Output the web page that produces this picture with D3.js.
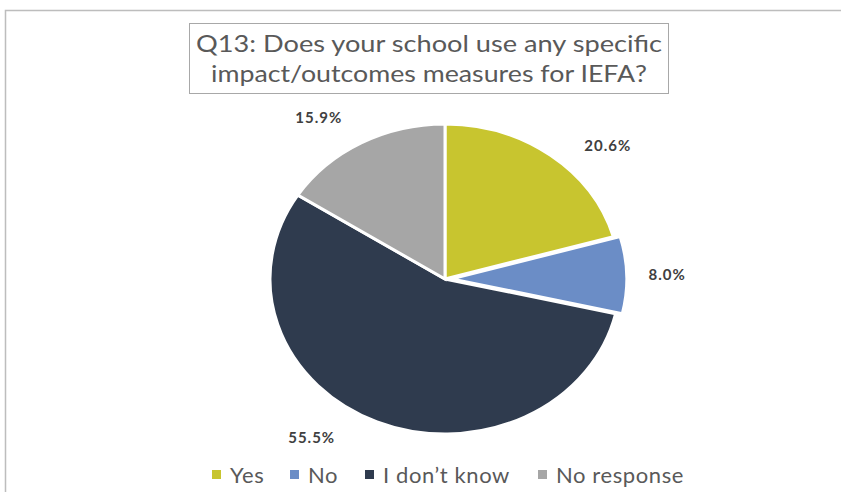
<!DOCTYPE html>
<html>
<head>
<meta charset="utf-8">
<script src="https://cdn.jsdelivr.net/npm/d3@7"></script>
<style>
  body { margin: 0; background: #fff; }
  svg { display: block; font-family: "Lato", "Open Sans", sans-serif; }
</style>
</head>
<body>
<div class="chart"></div>
<script>
const categories = ["Yes", "No", "I don\u2019t know", "No response"];
const shares = [20.6, 8.0, 55.5, 15.9];
const titleLines = ["Q13:  Does your school use any specific", "impact/outcomes measures for IEFA?"];
const colors = ["#c8c52f", "#6b8dc6", "#2f3b4e", "#a6a6a6"];

const w = 841;
const h = 492;

const svg = d3
  .select(".chart")
  .append("svg")
  .attr("width", w)
  .attr("height", h);

// outer chart frame (only top and left edges are visible in the crop)
svg
  .append("path")
  .attr("d", "M5.5," + h + "V10.5H" + w)
  .attr("fill", "none")
  .attr("stroke", "#bdbdbd")
  .attr("stroke-width", 1.5);

// title box
svg
  .append("rect")
  .attr("x", 189.5)
  .attr("y", 23.5)
  .attr("width", 479)
  .attr("height", 70)
  .attr("fill", "#fff")
  .attr("stroke", "#a8a8a8")
  .attr("stroke-width", 1);

svg
  .selectAll(".title")
  .data(titleLines)
  .enter()
  .append("text")
  .attr("class", "title")
  .attr("x", 429)
  .attr("y", (d, i) => 52 + i * 30)
  .attr("text-anchor", "middle")
  .attr("fill", "#595959")
  .style("font-size", "23px")
  .attr("textLength", (d, i) => (i === 0 ? 466 : 436))
  .attr("lengthAdjust", "spacingAndGlyphs")
  .text((d) => d);

// pie, slightly wider than tall like the original
const cx = 445;
const cy = 279;
const r = 155;
const rx = 175;

const pie = d3.pie().sort(null).value((d) => d);
const arcs = pie(shares);
const arc = d3.arc().innerRadius(0).outerRadius(r);

const pieG = svg
  .append("g")
  .attr("transform", "translate(" + cx + "," + cy + ") scale(" + rx / r + ",1)");

pieG
  .selectAll("path")
  .data(arcs)
  .enter()
  .append("path")
  .attr("d", arc)
  .attr("fill", (d, i) => colors[i])
  .attr("stroke", "#fff")
  .attr("stroke-width", 3)
  .attr("vector-effect", "non-scaling-stroke")
  .attr("transform", (d, i) => {
    // the "No" slice is pulled out a little
    if (i !== 1) return null;
    const a = (d.startAngle + d.endAngle) / 2;
    return "translate(" + Math.sin(a) * 6 + "," + -Math.cos(a) * 6 + ")";
  });

// data labels, outside end, nudged like the Excel best-fit placement
const labelNudge = [10, 0, 14, -6];
const labelK = 1.27;
function labelAngle(d, i) {
  return (d.startAngle + d.endAngle) / 2 + (labelNudge[i] * Math.PI) / 180;
}
svg
  .selectAll(".lbl")
  .data(arcs)
  .enter()
  .append("text")
  .attr("class", "lbl")
  .attr("x", (d, i) => cx + Math.sin(labelAngle(d, i)) * rx * labelK)
  .attr("y", (d, i) => cy - Math.cos(labelAngle(d, i)) * r * labelK)
  .attr("text-anchor", "middle")
  .attr("dominant-baseline", "central")
  .attr("fill", "#404040")
  .style("font-size", "15px")
  .style("font-weight", "bold")
  .style("letter-spacing", "1px")
  .text((d) => d.data.toFixed(1) + "%");

// legend
const legendX = [212, 290, 365, 538];
const legend = svg
  .selectAll(".leg")
  .data(categories)
  .enter()
  .append("g")
  .attr("class", "leg")
  .attr("transform", (d, i) => "translate(" + legendX[i] + ",474)");

legend
  .append("rect")
  .attr("x", 0)
  .attr("y", -4)
  .attr("width", 9)
  .attr("height", 9)
  .attr("fill", (d, i) => colors[i]);

legend
  .append("text")
  .attr("x", 18)
  .attr("y", 0)
  .attr("dominant-baseline", "central")
  .attr("fill", "#595959")
  .style("font-size", "22px")
  .style("letter-spacing", "0.6px")
  .text((d) => d);
</script>
</body>
</html>
